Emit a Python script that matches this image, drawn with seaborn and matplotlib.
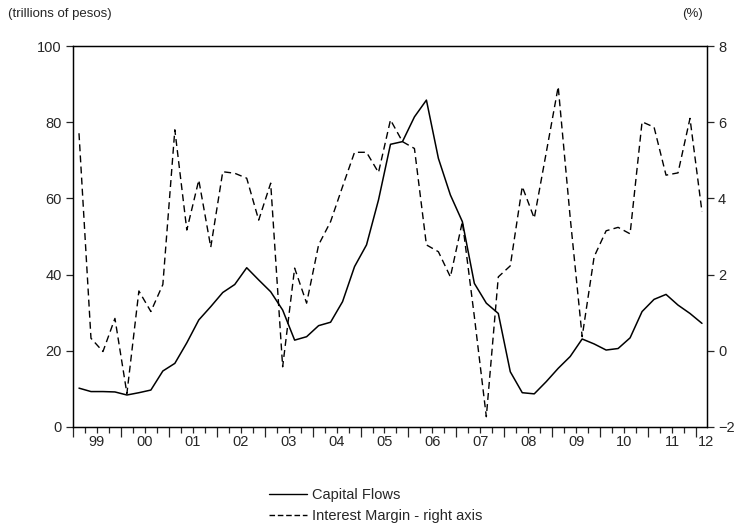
import numpy as np
import pandas as pd
import seaborn as sns
import matplotlib.pyplot as plt
from matplotlib.lines import Line2D

# quarterly data, 1999Q1 - 2012Q1
start_year = 1999
n_quarters = 53

capital_flows = [
    10.2, 9.3, 9.3, 9.2, 8.4, 9.0, 9.7, 14.7, 16.7, 22.1,
    28.1, 31.6, 35.3, 37.4, 41.8, 38.6, 35.5, 30.7, 22.8, 23.7,
    26.6, 27.5, 32.9, 42.1, 47.8, 59.6, 74.2, 74.9, 81.4, 85.8,
    70.5, 60.9, 53.9, 37.7, 32.5, 29.8, 14.5, 9.0, 8.7, 11.9,
    15.4, 18.5, 23.1, 21.8, 20.2, 20.6, 23.4, 30.3, 33.5, 34.8,
    32.0, 29.8, 27.2,
]

interest_margin = [
    5.71, 0.33, -0.02, 0.85, -1.12, 1.57, 1.03, 1.74, 5.80, 3.17,
    4.48, 2.72, 4.70, 4.66, 4.53, 3.43, 4.40, -0.42, 2.17, 1.25,
    2.78, 3.39, 4.31, 5.21, 5.21, 4.68, 6.06, 5.49, 5.31, 2.78,
    2.60, 1.94, 3.39, 0.90, -1.73, 1.94, 2.23, 4.31, 3.48, 5.20,
    6.93, 3.50, 0.37, 2.47, 3.15, 3.24, 3.07, 6.01, 5.87, 4.61,
    4.67, 6.10, 3.65,
]

year_labels = ["99", "00", "01", "02", "03", "04", "05", "06",
               "07", "08", "09", "10", "11", "12"]

# quarter index -> decimal year at middle of the quarter
q = np.arange(n_quarters)
t = start_year + q // 4 + ((q % 4) + 0.5) / 4

df = pd.DataFrame({"t": t, "flows": capital_flows, "margin": interest_margin})

sns.set_style("ticks")
plt.rcParams["font.family"] = ["Liberation Sans", "DejaVu Sans"]
plt.rcParams["axes.linewidth"] = 0.9

fig = plt.figure(figsize=(7.35, 5.29), dpi=100)
ax = fig.add_axes([73 / 735, 1 - 427 / 529, 634 / 735, 381 / 529])
ax2 = ax.twinx()

sns.lineplot(data=df, x="t", y="flows", ax=ax, color="black", lw=1.1)
sns.lineplot(data=df, x="t", y="margin", ax=ax2, color="black", lw=1.0,
             linestyle=(0, (5, 3)))

x_end = 2012.23
ax.set_xlim(start_year, x_end)
ax.set_ylim(0, 100)
ax.set_yticks(range(0, 101, 20))
ax2.set_ylim(-2, 8)
ax2.set_yticks(range(-2, 9, 2))

years = np.arange(start_year, 2013)
ax.set_xticks(years)
ax.set_xticklabels([])
ax.set_xticks(np.arange(start_year, x_end, 0.25), minor=True)
ax.tick_params(axis="x", which="major", length=7, width=0.9, direction="out")
ax.tick_params(axis="x", which="minor", length=4, width=0.9, direction="out")
ax.tick_params(axis="y", length=5, width=0.9, labelsize=10.5, pad=3)
ax2.tick_params(axis="y", length=5, width=0.9, labelsize=10.5, pad=3)

label_pos = list(years[:-1] + 0.5) + [2012.2]
for xp, lab in zip(label_pos, year_labels):
    ax.text(xp, -0.04, lab, transform=ax.get_xaxis_transform(),
            ha="center", va="center", fontsize=10.5)

ax.set_xlabel("")
ax.set_ylabel("")
ax2.set_ylabel("")
for a in (ax, ax2):
    for s in a.spines.values():
        s.set_visible(True)
        s.set_color("black")

fig.text(8 / 735, 1 - 14 / 529, "(trillions of pesos)", ha="left",
         va="center", fontsize=9.5)
fig.text(703 / 735, 1 - 14 / 529, "(%)", ha="right", va="center",
         fontsize=9.5)

handles = [Line2D([], [], color="black", lw=1.0),
           Line2D([], [], color="black", lw=1.0, linestyle=(0, (4, 2)))]
fig.legend(handles, ["Capital Flows", "Interest Margin - right axis"],
           loc="upper left", bbox_to_anchor=(262 / 735, 1 - 481 / 529),
           frameon=False, fontsize=10.5, handlelength=2.6,
           handletextpad=0.3, labelspacing=0.45, borderpad=0)

fig.savefig("out.png", dpi=100)
